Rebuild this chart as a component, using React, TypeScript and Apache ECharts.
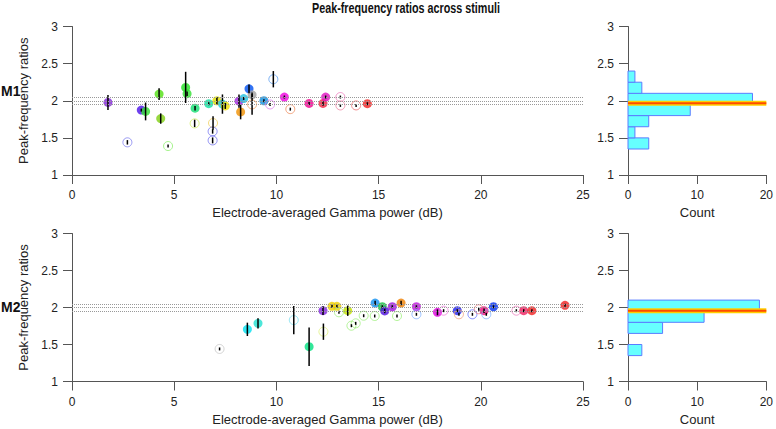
import React, { useEffect, useRef } from "react";
import * as echarts from "echarts";

// ---------- data ----------
const xTicks = [0, 5, 10, 15, 20, 25];
const refLevels = [1.95, 2.0, 2.05];

// M1 scatter
const m1X = [1.76, 3.39, 3.6, 4.26, 4.34, 2.71, 4.7, 5.56, 5.63, 6.02, 6.0, 6.9, 6.88, 6.88, 6.69, 7.09, 7.36, 7.5, 8.17, 8.25, 8.4, 8.66, 8.81, 8.81, 9.39, 9.69, 9.85, 10.39, 10.68, 11.6, 12.28, 12.41, 13.13, 13.13, 13.9, 14.45];
const m1Y = [1.977, 1.874, 1.856, 2.09, 1.76, 1.44, 1.39, 2.18, 2.095, 1.9, 1.695, 1.7, 1.587, 1.466, 1.96, 2.0, 1.955, 1.93, 1.995, 1.85, 2.03, 2.16, 2.08, 1.95, 2.0, 1.95, 2.29, 2.05, 1.887, 1.964, 1.964, 2.05, 2.05, 1.937, 1.937, 1.96];
const m1Err = [0.1, 0.02, 0.12, 0.08, 0.07, 0.03, 0.02, 0.21, 0.03, 0.03, 0.05, 0.09, 0.03, 0.04, 0.02, 0.05, 0.13, 0.04, 0.09, 0.1, 0.02, 0.06, 0.03, 0.14, 0.02, 0.02, 0.11, 0.02, 0.02, 0.02, 0.03, 0.02, 0.02, 0.02, 0.02, 0.02];
const m1Color = ["#8020d8", "#4a10e8", "#30e030", "#50e010", "#80d010", "#8080f0", "#90f070", "#20e020", "#30e030", "#10e070", "#d0f060", "#f0d060", "#7070f0", "#7070f0", "#10e0a0", "#e0e000", "#20d0e0", "#f0e000", "#a020e0", "#f09000", "#20c0e0", "#0050f0", "#a0a0a0", "#f0a060", "#1090e0", "#e080f0", "#60a0f0", "#f000e0", "#f09060", "#f00090", "#f02040", "#e010c0", "#f080c0", "#f080a0", "#f07070", "#f02020"];
const m1Filled = [1, 1, 1, 1, 1, 0, 0, 1, 1, 1, 0, 0, 0, 0, 1, 1, 1, 1, 1, 1, 1, 1, 1, 0, 1, 0, 0, 1, 0, 1, 1, 1, 0, 0, 0, 1];

// M2 scatter
const m2X = [7.22, 8.58, 9.1, 10.85, 11.6, 12.3, 12.28, 12.72, 12.96, 13.06, 13.49, 13.67, 13.88, 14.27, 14.81, 14.83, 15.18, 15.3, 15.67, 15.9, 16.1, 16.85, 16.85, 17.88, 18.18, 18.85, 18.93, 19.59, 19.9, 20.16, 20.27, 20.62, 21.74, 22.1, 22.5, 24.12];
const m2Y = [1.44, 1.705, 1.786, 1.83, 1.47, 1.673, 1.957, 2.016, 2.016, 1.935, 1.957, 1.754, 1.786, 1.889, 1.885, 2.06, 2.01, 1.953, 2.01, 1.885, 2.06, 2.01, 1.908, 1.935, 1.957, 1.957, 1.908, 1.908, 1.976, 1.957, 1.908, 2.01, 1.957, 1.957, 1.957, 2.03];
const m2Err = [0.02, 0.09, 0.07, 0.19, 0.26, 0.11, 0.06, 0.02, 0.02, 0.02, 0.07, 0.02, 0.02, 0.02, 0.02, 0.03, 0.02, 0.03, 0.02, 0.02, 0.03, 0.02, 0.02, 0.04, 0.02, 0.02, 0.02, 0.02, 0.02, 0.03, 0.02, 0.02, 0.02, 0.02, 0.02, 0.02];
const m2Color = ["#c8c8c8", "#00e0f0", "#20e0d0", "#80e0f0", "#00e080", "#e0f080", "#8020e0", "#f0d000", "#f0d000", "#a0f080", "#c0e000", "#a0f080", "#a0f080", "#a0f080", "#a0f080", "#1090f0", "#10c040", "#5010e0", "#a010e0", "#a0f080", "#f08000", "#c010e0", "#80b0ff", "#e000e0", "#f080e0", "#2020f0", "#f0a080", "#6070ff", "#f08080", "#f01080", "#80b0ff", "#0030f0", "#f080c0", "#f02060", "#f02020", "#f02020"];
const m2Filled = [0, 1, 1, 0, 1, 0, 1, 1, 1, 0, 1, 0, 0, 0, 0, 1, 1, 1, 1, 0, 1, 1, 0, 1, 0, 1, 0, 0, 0, 1, 0, 1, 0, 1, 1, 1];

// histograms
const binEdges = [1.35, 1.5, 1.65, 1.8, 1.95, 2.1, 2.25, 2.4];
const m1Counts = [3, 1, 3, 9, 18, 2, 1];
const m2Counts = [2, 0, 5, 11, 19, 0, 0];
const m1Median = 1.965;
const m2Median = 1.955;

// ---------- helpers ----------
const FONT = "'Liberation Sans', Arial, Helvetica, sans-serif";
const axisCommon = {
  axisLine: { show: true, lineStyle: { color: "#555", width: 1 } },
  axisTick: { show: true, inside: false, length: 9, lineStyle: { color: "#555", width: 1 } },
  splitLine: { show: false },
};

function scatterData(xs: number[], ys: number[], colors: string[], filled: number[]) {
  return xs.map((x, i) => ({
    value: [x, ys[i]],
    itemStyle: filled[i]
      ? { color: colors[i], borderColor: colors[i], borderWidth: 0 }
      : { color: "rgba(255,255,255,0)", borderColor: colors[i], borderWidth: 1 },
  }));
}
function errData(xs: number[], ys: number[], errs: number[]) {
  return xs.map((x, i) => [x, ys[i] - errs[i], ys[i] + errs[i]]);
}
function histData(counts: number[]) {
  return counts.map((c, i) => [c, binEdges[i], binEdges[i + 1]]);
}

const errRender = (params: any, api: any) => {
  const p1 = api.coord([api.value(0), api.value(1)]);
  const p2 = api.coord([api.value(0), api.value(2)]);
  return {
    type: "line",
    shape: { x1: p1[0], y1: p1[1], x2: p2[0], y2: p2[1] },
    style: { stroke: "#000", lineWidth: 1.5 },
  };
};
const histRender = (params: any, api: any) => {
  const c = api.value(0);
  if (!c) return { type: "group", children: [] };
  const a = api.coord([0, api.value(2)]);
  const b = api.coord([c, api.value(1)]);
  return {
    type: "rect",
    shape: { x: a[0], y: a[1], width: b[0] - a[0], height: b[1] - a[1] },
    style: { fill: "#66ffff", stroke: "#5b7cff", lineWidth: 1 },
  };
};

export default function App() {
  const ref = useRef<HTMLDivElement>(null);
  useEffect(() => {
    if (!ref.current) return;
    const chart = echarts.init(ref.current, null, { renderer: "svg" });
    const mainX = (gi: number) => ({
      type: "value",
      gridIndex: gi,
      min: 0,
      max: 25,
      interval: 5,
      name: "Electrode-averaged Gamma power (dB)",
      nameLocation: "middle",
      nameGap: 31,
      nameTextStyle: { fontFamily: FONT, fontSize: 13, color: "#222" },
      axisLabel: { fontFamily: FONT, fontSize: 12, color: "#222", margin: 14 },
      ...axisCommon,
    });
    const histX = (gi: number) => ({
      type: "value",
      gridIndex: gi,
      min: 0,
      max: 20,
      interval: 10,
      name: "Count",
      nameLocation: "middle",
      nameGap: 31,
      nameTextStyle: { fontFamily: FONT, fontSize: 13, color: "#222" },
      axisLabel: { fontFamily: FONT, fontSize: 12, color: "#222", margin: 14 },
      ...axisCommon,
    });
    const yAx = (gi: number, named: boolean) => ({
      type: "value",
      gridIndex: gi,
      min: 1,
      max: 3,
      interval: 0.5,
      name: named ? "Peak-frequency ratios" : "",
      nameLocation: "middle",
      nameGap: 35,
      nameRotate: 90,
      nameTextStyle: { fontFamily: FONT, fontSize: 13, color: "#222" },
      axisLabel: { fontFamily: FONT, fontSize: 12, color: "#222", margin: 14 },
      ...axisCommon,
    });
    const refLine = {
      silent: true,
      symbol: "none",
      label: { show: false },
      lineStyle: { color: "#999", type: "dotted", width: 1 },
      data: refLevels.map((v) => ({ yAxis: v })),
    };
    const scatterSeries = (ai: number, data: any[]) => ({
      type: "scatter",
      xAxisIndex: ai,
      yAxisIndex: ai,
      symbol: "circle",
      symbolSize: 9,
      data,
      markLine: refLine,
      z: 3,
    });
    const errSeries = (ai: number, data: any[]) => ({
      type: "custom",
      xAxisIndex: ai,
      yAxisIndex: ai,
      renderItem: errRender,
      encode: { x: 0, y: [1, 2] },
      data,
      z: 4,
    });
    const histSeries = (ai: number, data: any[]) => ({
      type: "custom",
      xAxisIndex: ai,
      yAxisIndex: ai,
      renderItem: histRender,
      encode: { x: 0, y: [1, 2] },
      data,
      z: 2,
    });
    const medSeries = (ai: number, med: number, color: string, width: number, z: number) => ({
      type: "line",
      xAxisIndex: ai,
      yAxisIndex: ai,
      symbol: "none",
      data: [
        [0, med],
        [20, med],
      ],
      lineStyle: { color, width },
      z,
    });
    chart.setOption({
      animation: false,
      backgroundColor: "#fff",
      graphic: [
        {
          type: "text",
          x: 406,
          y: 9,
          scaleX: 0.77,
          style: {
            text: "Peak-frequency ratios across stimuli",
            x: 0,
            y: 0,
            textAlign: "center",
            textVerticalAlign: "middle",
            align: "center",
            verticalAlign: "middle",
            fontFamily: FONT,
            fontWeight: "bold",
            fontSize: 14,
            fill: "#111",
          },
        },
        { type: "text", left: 1, top: 84, style: { text: "M1", fontFamily: FONT, fontWeight: "bold", fontSize: 14, fill: "#111" } },
        { type: "text", left: 1, top: 300, style: { text: "M2", fontFamily: FONT, fontWeight: "bold", fontSize: 14, fill: "#111" } },
      ],
      grid: [
        { left: 72, top: 26.5, width: 511, height: 148.5 },
        { left: 628, top: 26.5, width: 140.5, height: 148.5 },
        { left: 72, top: 233.5, width: 511, height: 148 },
        { left: 628, top: 233.5, width: 140.5, height: 148 },
      ],
      xAxis: [mainX(0), histX(1), mainX(2), histX(3)],
      yAxis: [yAx(0, true), yAx(1, false), yAx(2, true), yAx(3, false)],
      series: [
        scatterSeries(0, scatterData(m1X, m1Y, m1Color, m1Filled)),
        errSeries(0, errData(m1X, m1Y, m1Err)),
        histSeries(1, histData(m1Counts)),
        medSeries(1, m1Median, "#ffd000", 5, 5),
        medSeries(1, m1Median, "#ff4a00", 2, 6),
        scatterSeries(2, scatterData(m2X, m2Y, m2Color, m2Filled)),
        errSeries(2, errData(m2X, m2Y, m2Err)),
        histSeries(3, histData(m2Counts)),
        medSeries(3, m2Median, "#ffd000", 5, 5),
        medSeries(3, m2Median, "#ff4a00", 2, 6),
      ],
    });
    return () => chart.dispose();
  }, []);
  return <div ref={ref} style={{ position: "absolute", left: 0, top: 0, width: 776, height: 429 }} />;
}
